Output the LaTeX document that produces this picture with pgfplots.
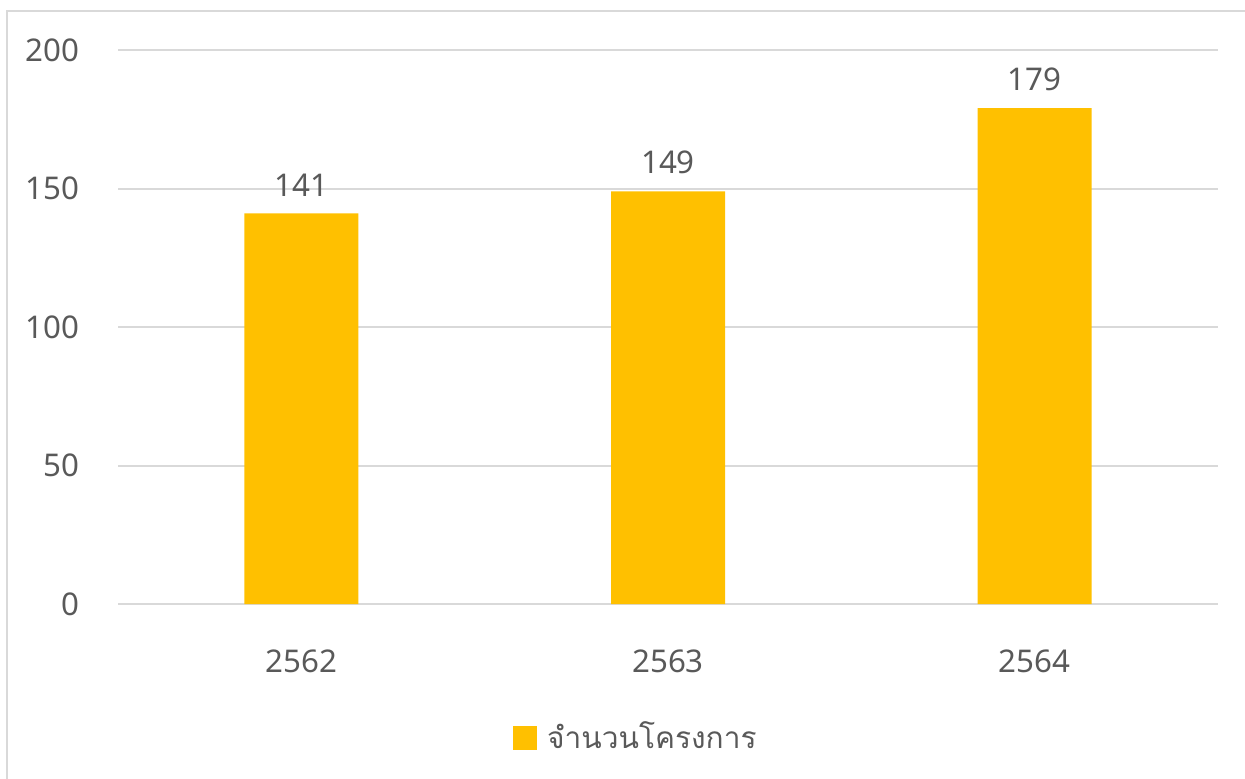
\documentclass[border=0pt]{standalone}
\usepackage{fontspec}
\setmainfont{Noto Sans}
\newfontfamily\thaifont[Script=Thai]{Loma}
\usepackage{pgfplots}
\pgfplotsset{compat=1.18}
\definecolor{txt}{HTML}{595959}
\definecolor{gridc}{HTML}{D9D9D9}
\definecolor{barc}{HTML}{FFC000}
\begin{document}
\begin{tikzpicture}[x=1cm,y=1cm]
\useasboundingbox (0,0) rectangle (12.45,7.78);
\draw[gridc, line width=0.2mm] (0.07,-1) -- (0.07,7.67) -- (13,7.67);
\begin{axis}[
  at={(1.18cm,1.74cm)}, anchor=south west,
  scale only axis, width=11cm, height=5.54cm,
  xmin=-0.5, xmax=2.5, ymin=0, ymax=200,
  ytick={0,50,100,150,200},
  xtick={0,1,2}, xticklabels={2562,2563,2564},
  axis line style={draw=none},
  major tick length=0,
  ymajorgrids, xmajorgrids=false, grid style={draw=gridc, line width=0.2mm},
  tick label style={font=\fontsize{8.9}{10}\selectfont, text=txt},
  /pgf/number format/assume math mode=true,
  yticklabel style={xshift=-0.26cm},
  xticklabel style={yshift=-0.33cm},
  /pgf/number format/.cd, 1000 sep={}, /pgfplots/.cd,
  nodes near coords,
  nodes near coords style={font=\fontsize{8.9}{10}\selectfont, text=txt, yshift=0.05cm},
  legend style={at={(0.473,-0.242)}, anchor=center, draw=none, fill=none,
    font=\fontsize{8.5}{10}\selectfont\thaifont, text=txt, inner sep=0pt,
    /tikz/every even column/.append style={column sep=0pt}},
  legend image code/.code={\fill[barc] (0cm,-0.12cm) rectangle (0.24cm,0.12cm);},
]
\addplot[ybar, bar width=1.14cm, fill=barc, draw=none] coordinates {(0,141) (1,149) (2,179)};
\addlegendentry{\hspace{0.03cm}จำนวนโครงการ}
\end{axis}
\end{tikzpicture}
\end{document}
